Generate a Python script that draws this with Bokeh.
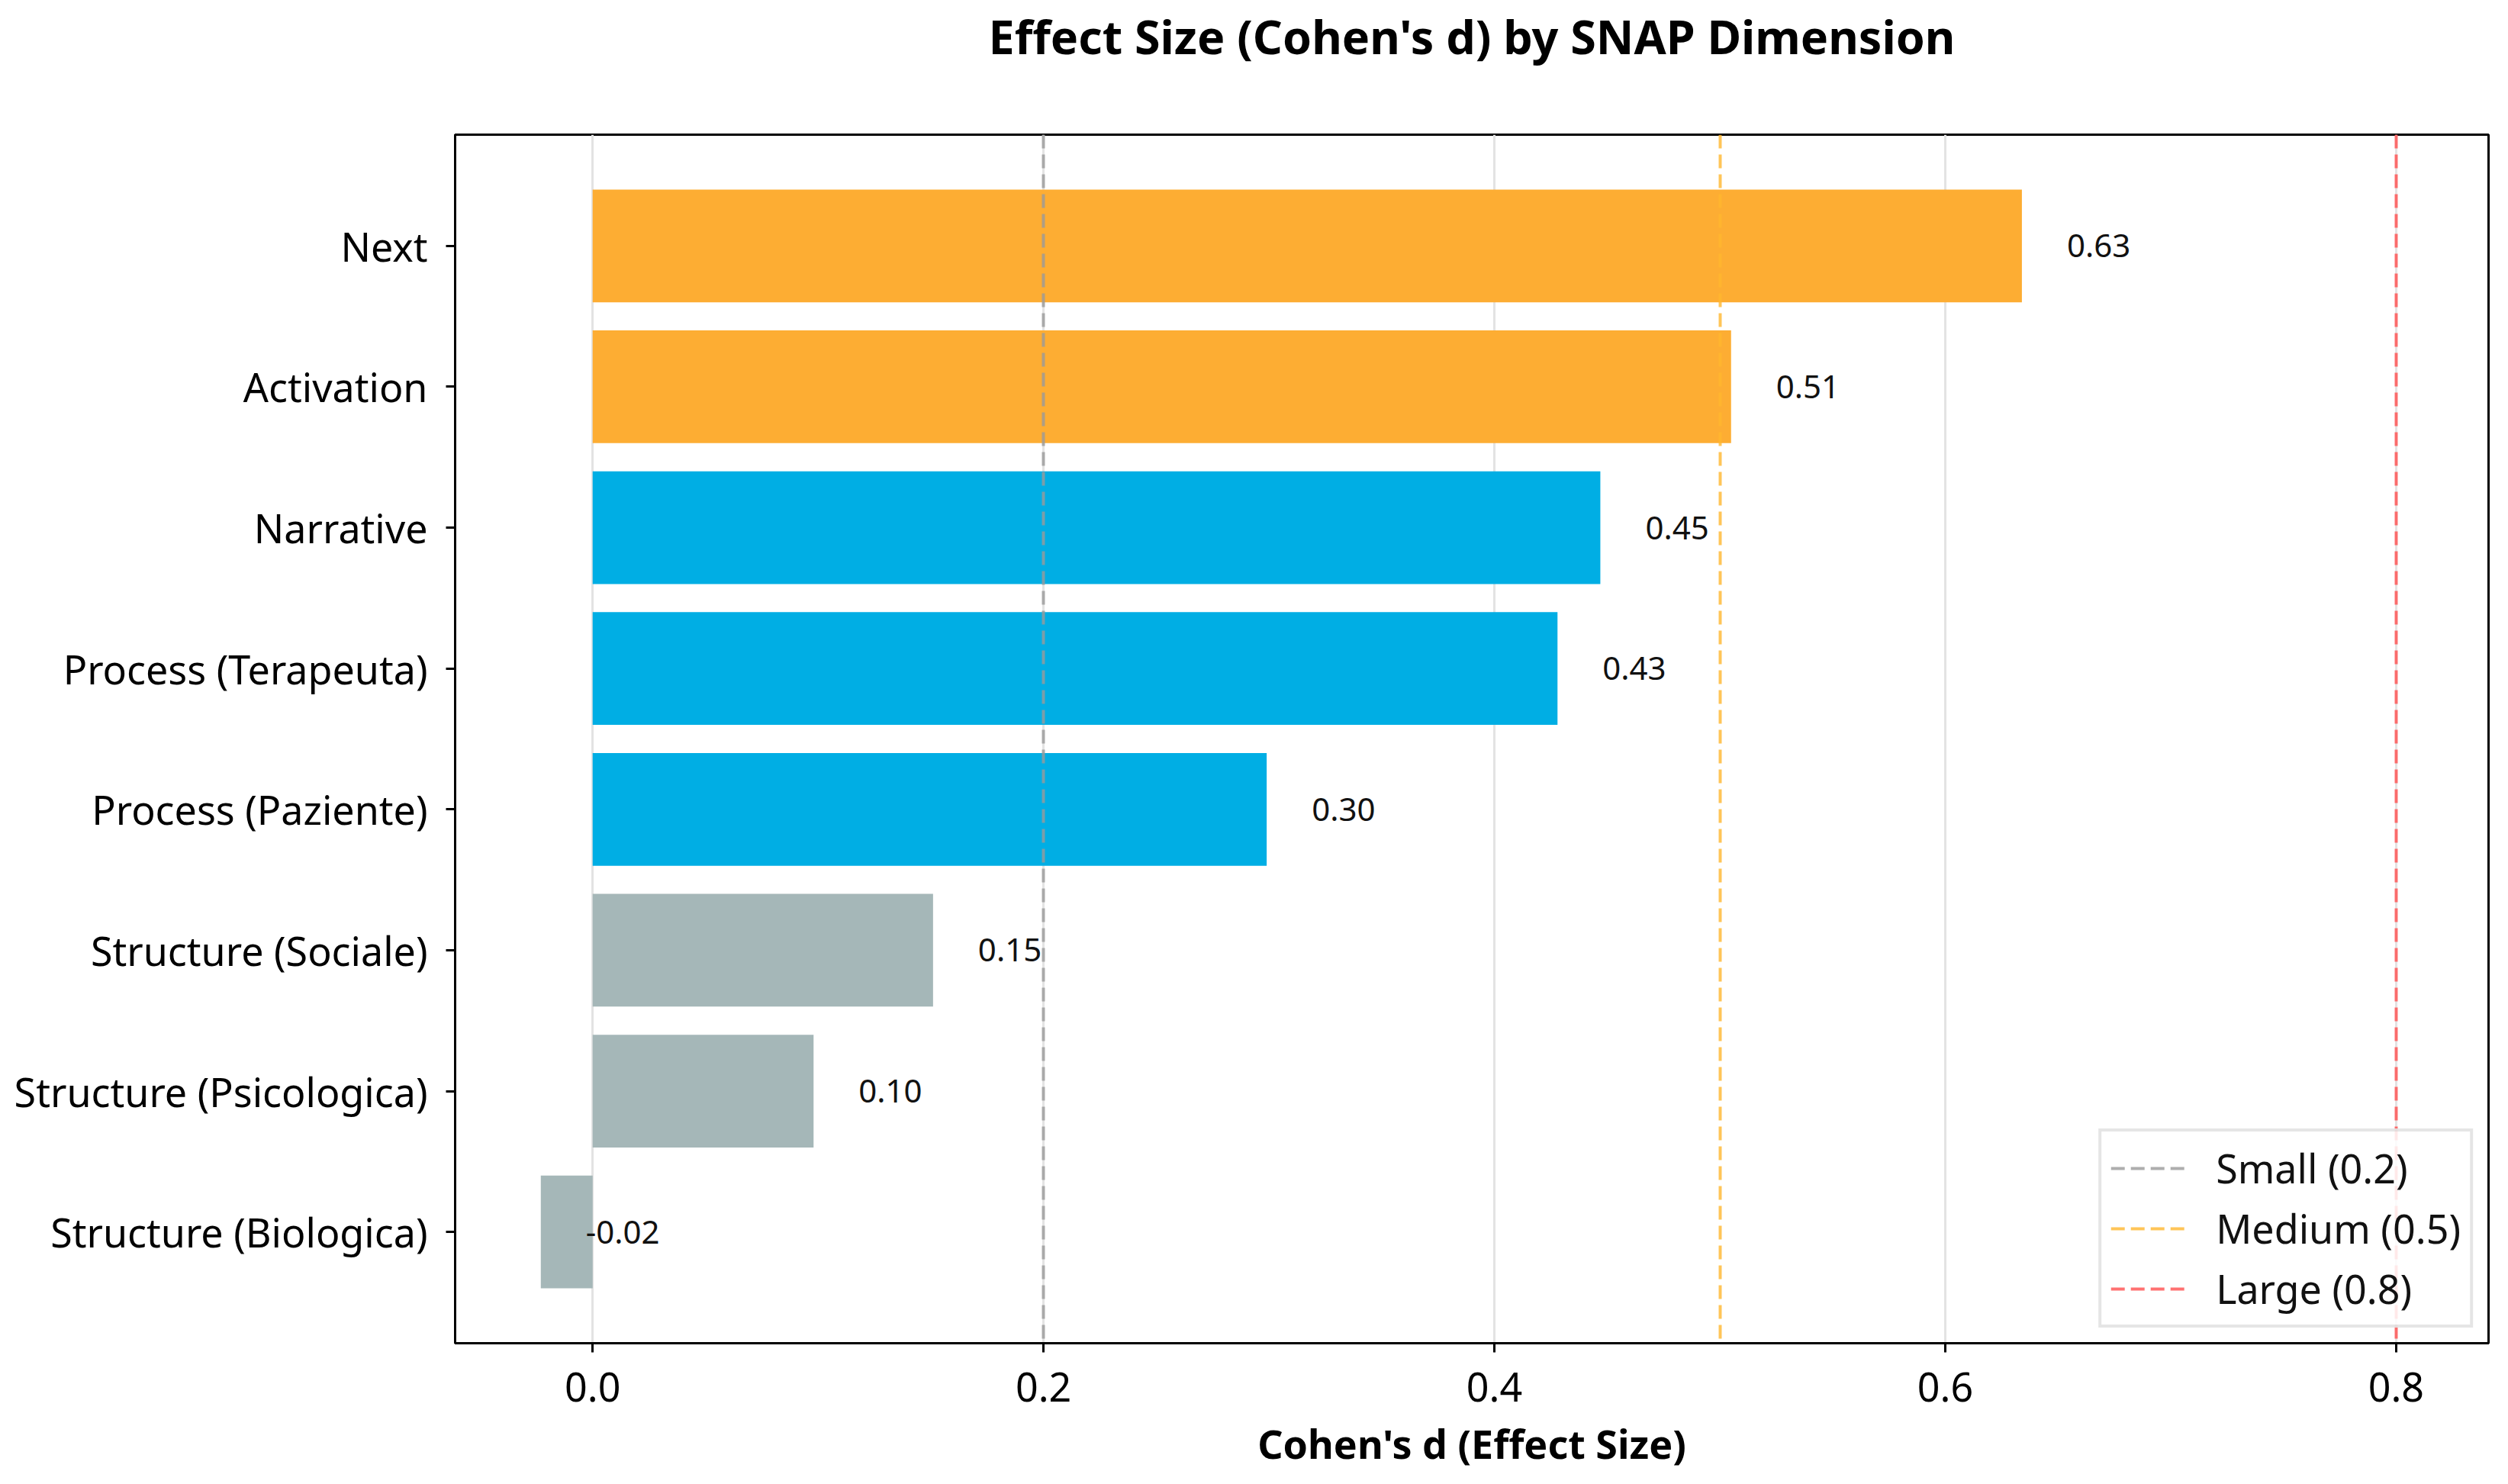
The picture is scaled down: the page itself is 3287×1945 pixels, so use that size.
from bokeh.plotting import figure
from bokeh.models import (FactorRange, Range1d, ColumnDataSource, Legend, LegendItem,
                          FixedTicker, NumeralTickFormatter)
from bokeh.embed import file_html
from bokeh.resources import INLINE
from bokeh.core.properties import value

# Data (top to bottom as shown)
dimensions = ["Next", "Activation", "Narrative", "Process (Terapeuta)", "Process (Paziente)",
              "Structure (Sociale)", "Structure (Psicologica)", "Structure (Biologica)"]
cohens_d = [0.634, 0.505, 0.447, 0.428, 0.299, 0.151, 0.098, -0.023]
value_labels = ["0.63", "0.51", "0.45", "0.43", "0.30", "0.15", "0.10", "-0.02"]
groups = ["high", "high", "mid", "mid", "mid", "low", "low", "low"]
group_colors = {"high": "#FDAD33", "mid": "#00AEE4", "low": "#A5B7B8"}

thresholds = [0.2, 0.5, 0.8]
threshold_labels = ["Small (0.2)", "Medium (0.5)", "Large (0.8)"]
threshold_colors = ["#9a9a9a", "#FFB62E", "#FF4D4D"]
x_ticks = [0.0, 0.2, 0.4, 0.6, 0.8]
x_min, x_max = -0.061, 0.841
title_text = "Effect Size (Cohen's d) by SNAP Dimension"

FONT = "Noto Sans"

source = ColumnDataSource(dict(
    dim=dimensions,
    d=cohens_d,
    lab=value_labels,
    color=[group_colors[g] for g in groups],
))

p = figure(
    y_range=FactorRange(factors=list(reversed(dimensions)), range_padding=0.0725),
    x_range=Range1d(x_min, x_max),
    width=3271, height=1929,
    output_backend="svg", toolbar_location=None,
    min_border_left=596, min_border_right=10, min_border_top=176, min_border_bottom=156,
)

# a blank second line lifts the title towards the top of the border area
p.title.text = title_text + "\n "
p.title.text_font = FONT
p.title.text_font_style = "bold"
p.title.text_font_size = "61px"
p.title.text_color = "black"
p.title.align = "center"
p.title.vertical_align = "top"
p.title.standoff = 6

# grid
p.ygrid.grid_line_color = None
p.xgrid.ticker = FixedTicker(ticks=x_ticks)
p.xgrid.grid_line_color = "#e3e3e3"
p.xgrid.grid_line_width = 3

# bars
p.hbar(y="dim", left=0, right="d", height=0.8, color="color", line_color=None, source=source)

# value labels
p.text(x="d", y="dim", text="lab", source=source, x_offset=59,
       text_font=value(FONT), text_font_size="42px", text_baseline="middle",
       text_align="left", text_color="#111111")

# threshold lines
items = []
for t, lbl, c in zip(thresholds, threshold_labels, threshold_colors):
    r = p.vspan(x=[t], line_color=c, line_alpha=0.8, line_width=4, line_dash="18 8")
    items.append(LegendItem(label=lbl, renderers=[r]))

legend = Legend(items=items, location="bottom_right")
legend.label_text_font = FONT
legend.label_text_font_size = "52px"
legend.label_text_color = "#111111"
legend.glyph_width = 100
legend.glyph_height = 60
legend.label_standoff = 38
legend.spacing = 8
legend.padding = 12
legend.margin = 20
legend.border_line_color = "#cccccc"
legend.border_line_width = 4
legend.background_fill_alpha = 0.85
p.add_layout(legend)

# axes
p.xaxis.ticker = FixedTicker(ticks=x_ticks)
p.xaxis.formatter = NumeralTickFormatter(format="0.0")
p.xaxis.axis_label = "Cohen's d (Effect Size)"
p.xaxis.axis_label_text_font = FONT
p.xaxis.axis_label_text_font_style = "bold"
p.xaxis.axis_label_text_font_size = "52px"
p.xaxis.axis_label_text_color = "black"
p.xaxis.axis_label_standoff = 16
for ax in (p.xaxis, p.yaxis):
    ax.major_label_text_font = FONT
    ax.major_label_text_font_size = "52px"
    ax.major_label_text_color = "black"
    ax.axis_line_color = "black"
    ax.axis_line_width = 3
    ax.major_tick_line_color = "black"
    ax.major_tick_line_width = 3
    ax.major_tick_out = 12
    ax.major_tick_in = 0
    ax.minor_tick_line_color = None
p.xaxis.major_label_standoff = 26
p.yaxis.major_label_standoff = 24

p.outline_line_color = "black"
p.outline_line_width = 3
p.outline_line_alpha = 1.0
p.background_fill_color = "white"
p.border_fill_color = "white"

open("out.html", "w").write(file_html(p, INLINE))
